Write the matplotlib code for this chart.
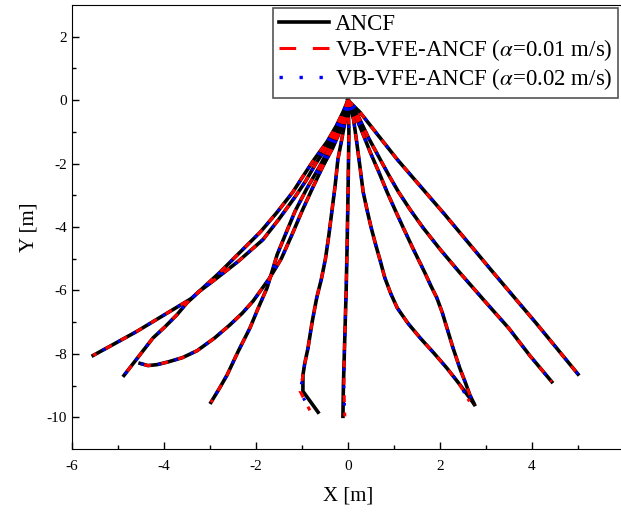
import numpy as np
import matplotlib
matplotlib.use("Agg")
import matplotlib.pyplot as plt
from matplotlib.lines import Line2D

plt.rcParams['font.family'] = ['Liberation Serif', 'DejaVu Serif']
plt.rcParams['mathtext.fontset'] = 'stix'
plt.rcParams['axes.unicode_minus'] = False
plt.rcParams['lines.scale_dashes'] = False

# trajectories (x, y) in m, ANCF reference
ax_A = [0, -0.1, -0.25, -0.45, -0.75, -1.0, -1.2, -1.55, -1.9, -2.35, -2.8, -3.1, -3.4, -3.8, -4.2, -4.6, -5.1, -5.54]
ay_A = [0, -0.35, -0.8, -1.3, -1.9, -2.45, -2.9, -3.55, -4.15, -4.8, -5.45, -5.85, -6.25, -6.6, -6.95, -7.3, -7.7, -8.05]
ax_B = [0, -0.08, -0.22, -0.45, -0.7, -0.92, -1.15, -1.5, -1.85, -2.4, -2.93, -3.25, -3.5, -3.72, -3.98, -4.24, -4.55, -4.87]
ay_B = [0, -0.4, -0.85, -1.45, -2.0, -2.55, -3.05, -3.75, -4.4, -5.1, -5.7, -6.05, -6.39, -6.77, -7.15, -7.5, -8.08, -8.68]
ax_C = [0, -0.05, -0.15, -0.33, -0.55, -0.78, -1.0, -1.22, -1.45, -1.7, -2.06, -2.3, -2.57, -2.9, -3.28, -3.6, -3.9, -4.15, -4.35, -4.52]
ay_C = [0, -0.4, -0.9, -1.5, -2.1, -2.8, -3.5, -4.25, -5.0, -5.6, -6.33, -6.72, -7.09, -7.5, -7.9, -8.12, -8.25, -8.34, -8.37, -8.3]
ax_D = [0, -0.07, -0.2, -0.4, -0.62, -0.9, -1.15, -1.35, -1.54, -1.65, -1.76, -1.95, -2.13, -2.38, -2.63, -2.8, -2.98]
ay_D = [0, -0.4, -0.9, -1.5, -2.1, -2.8, -3.5, -4.2, -4.87, -5.4, -5.92, -6.55, -7.18, -7.9, -8.67, -9.1, -9.53]
ax_E = [0, -0.03, -0.08, -0.15, -0.22, -0.28, -0.35, -0.42, -0.49, -0.58, -0.68, -0.78, -0.87, -0.94, -0.98, -0.98, -0.82, -0.65]
ay_E = [0, -0.4, -0.8, -1.35, -1.87, -2.7, -3.5, -4.3, -5.0, -5.65, -6.23, -7.0, -7.82, -8.3, -8.67, -9.18, -9.5, -9.84]
ax_F = [0, 0.01, 0.02, 0.01, 0.0, -0.02, -0.04, -0.06, -0.08, -0.1, -0.11]
ay_F = [0, -0.5, -1.0, -2.0, -3.0, -4.65, -6.0, -7.0, -8.0, -9.0, -9.97]
ax_G1 = [0, 0.06, 0.12, 0.19, 0.26, 0.33, 0.42, 0.5, 0.6, 0.7, 0.8, 0.93, 1.07, 1.3, 1.57, 1.87, 2.15, 2.42, 2.65, 2.73]
ay_G1 = [0, -0.3, -0.6, -1.33, -2.1, -2.9, -3.5, -4.0, -4.55, -5.06, -5.6, -6.1, -6.55, -7.03, -7.5, -7.98, -8.45, -8.95, -9.4, -9.56]
ax_G2 = [0, 0.06, 0.15, 0.32, 0.5, 0.68, 0.85, 1.02, 1.2, 1.42, 1.67, 1.8, 1.93, 2.05, 2.15, 2.28, 2.43, 2.55, 2.65, 2.75]
ay_G2 = [0, -0.2, -0.45, -1.05, -1.7, -2.3, -2.9, -3.45, -4.02, -4.7, -5.44, -5.85, -6.23, -6.7, -7.18, -7.8, -8.45, -8.9, -9.3, -9.6]
ax_H = [0, 0.08, 0.22, 0.45, 0.7, 0.9, 1.1, 1.35, 1.63, 2.0, 2.43, 2.95, 3.5, 3.95, 4.43]
ay_H = [0, -0.2, -0.5, -1.2, -1.87, -2.4, -2.9, -3.45, -4.02, -4.7, -5.44, -6.3, -7.2, -8.05, -8.88]
ax_I = [0, 0.1, 0.26, 0.65, 1.07, 2.1, 3.16, 4.1, 5.0]
ay_I = [0, -0.15, -0.38, -1.1, -1.87, -3.6, -5.44, -7.05, -8.64]

# VB-VFE-ANCF runs differ only at a few tips
vx_E = [0, -0.03, -0.08, -0.15, -0.22, -0.28, -0.35, -0.42, -0.49, -0.58, -0.68, -0.78, -0.87, -0.94, -0.98, -1.04, -0.93, -0.83]
vy_E = [0, -0.4, -0.8, -1.35, -1.87, -2.7, -3.5, -4.3, -5.0, -5.65, -6.23, -7.0, -7.82, -8.3, -8.67, -9.18, -9.5, -9.78]
vx_F = [0, 0.01, 0.02, 0.01, 0.0, -0.02, -0.04, -0.06, -0.08, -0.09, -0.07]
vy_F = [0, -0.5, -1.0, -2.0, -3.0, -4.65, -6.0, -7.0, -8.0, -9.0, -9.97]
vx_G1 = [0, 0.06, 0.12, 0.19, 0.26, 0.33, 0.42, 0.5, 0.6, 0.7, 0.8, 0.93, 1.07, 1.3, 1.57, 1.87, 2.15, 2.42, 2.64]
vy_G1 = [0, -0.3, -0.6, -1.33, -2.1, -2.9, -3.5, -4.0, -4.55, -5.06, -5.6, -6.1, -6.55, -7.03, -7.5, -7.98, -8.45, -8.95, -9.5]

ancf = [(ax_A, ay_A), (ax_B, ay_B), (ax_C, ay_C), (ax_D, ay_D), (ax_E, ay_E),
        (ax_F, ay_F), (ax_G1, ay_G1), (ax_G2, ay_G2), (ax_H, ay_H), (ax_I, ay_I)]
vb = [(ax_A, ay_A), (ax_B, ay_B), (ax_C, ay_C), (ax_D, ay_D), (vx_E, vy_E),
      (vx_F, vy_F), (vx_G1, vy_G1), (ax_G2, ay_G2), (ax_H, ay_H), (ax_I, ay_I)]

labels = ['ANCF', r'VB-VFE-ANCF ($\alpha$=0.01 m/s)', r'VB-VFE-ANCF ($\alpha$=0.02 m/s)']

fig = plt.figure(figsize=(6.21, 5.16), dpi=100)
ax = fig.add_axes([72/621, 1-449/516, 552/621, 444/516])

for x, y in ancf:
    ax.plot(x, y, color='black', lw=2.6, solid_joinstyle='round')
for x, y in vb:
    ax.plot(x, y, color='red', lw=2.2, linestyle=(0, (5, 7.5)))
for x, y in vb:
    ax.plot(x, y, color='blue', lw=2.2, linestyle=(7, (2, 10.5)))

handles = [Line2D([], [], color='black', lw=2.6),
           Line2D([], [], color='red', lw=2.2, linestyle=(0, (12, 12))),
           Line2D([], [], color='blue', lw=2.4, linestyle=(0, (2.4, 12)))]

ax.set_xlim(-6, 6)
ax.set_ylim(-11, 3)
ax.set_xticks([-6, -4, -2, 0, 2, 4, 6])
ax.set_yticks([2, 0, -2, -4, -6, -8, -10])
ax.set_xticks(np.arange(-5, 6, 2), minor=True)
ax.set_yticks(np.arange(-9, 3, 2), minor=True)
ax.tick_params(which='both', direction='in', labelsize=11)
ax.tick_params(which='major', length=5, width=1)
ax.tick_params(which='minor', length=3, width=1)
ax.tick_params(axis='x', pad=8)
ax.set_xlabel('X [m]', fontsize=15, labelpad=10)
ax.set_ylabel('Y [m]', fontsize=15, labelpad=6)

leg = ax.legend(handles, labels, loc='upper right', bbox_to_anchor=(618/621, 1-8/516),
                bbox_transform=fig.transFigure, borderaxespad=0, fontsize=16.5,
                fancybox=False, framealpha=1, edgecolor='#555555',
                handlelength=2.2, handletextpad=0.25, labelspacing=0.12,
                borderpad=0.25)
leg.get_frame().set_linewidth(1.2)

fig.savefig('out.png', dpi=100)
